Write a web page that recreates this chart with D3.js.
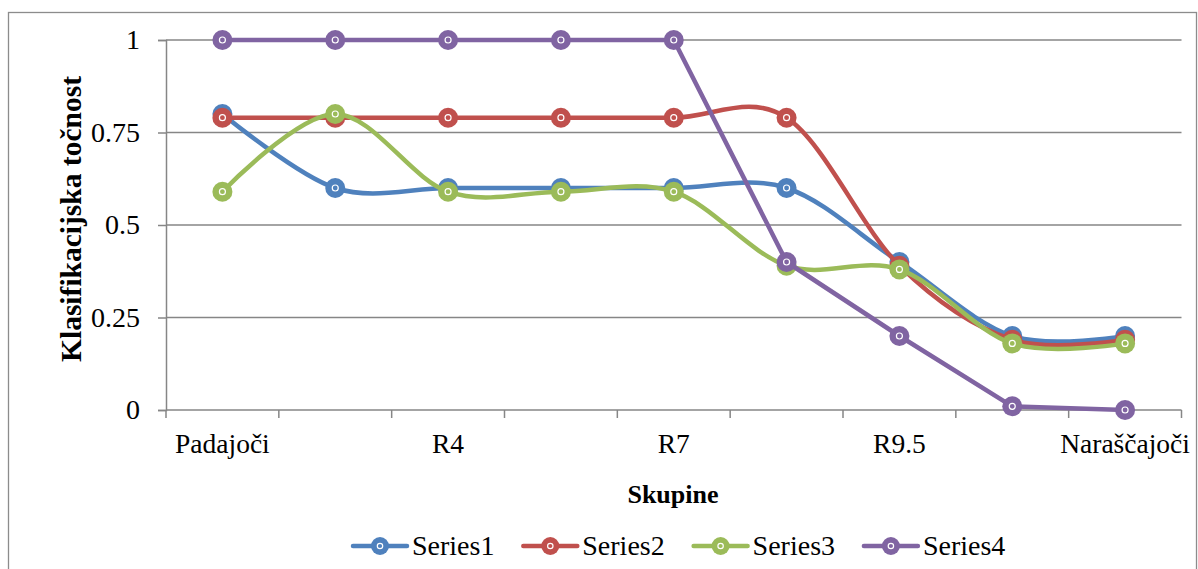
<!DOCTYPE html>
<html>
<head>
<meta charset="utf-8">
<script src="https://cdn.jsdelivr.net/npm/d3@7"></script>
<style>
  html, body { margin: 0; padding: 0; background: #fff; }
  svg { display: block; }
  text { font-family: "Liberation Serif", "Times New Roman", serif; fill: #000; }
</style>
</head>
<body>
<svg id="chart" width="1198" height="569"></svg>
<script>
// Groups along the x axis (only every other label is printed)
const tickLabels = ["Padajoči", "", "R4", "", "R7", "", "R9.5", "", "Naraščajoči"];
const yTicks = [0, 0.25, 0.5, 0.75, 1];

// Classification accuracy per group
const series1 = [0.80, 0.60, 0.60, 0.60, 0.60, 0.60, 0.40, 0.20, 0.20];
const series2 = [0.79, 0.79, 0.79, 0.79, 0.79, 0.79, 0.39, 0.19, 0.19];
const series3 = [0.59, 0.80, 0.59, 0.59, 0.59, 0.39, 0.38, 0.18, 0.18];
const series4 = [1.00, 1.00, 1.00, 1.00, 1.00, 0.40, 0.20, 0.01, 0.00];

const seriesNames = ["Series1", "Series2", "Series3", "Series4"];
const seriesColors = ["#4F81BD", "#C0504D", "#9BBB59", "#8064A2"];
const seriesSmooth = [true, true, true, false];
const allSeries = [series1, series2, series3, series4];

const svg = d3.select("#chart");
const gridColor = "#868686";

// chart border
svg.append("rect")
  .attr("x", 8.5).attr("y", 12.5)
  .attr("width", 1188).attr("height", 570)
  .attr("fill", "#fff").attr("stroke", "#8c8c8c").attr("stroke-width", 1.3);

const plot = { left: 166, right: 1181.5, top: 40, bottom: 410 };

const x = d3.scaleBand()
  .domain(d3.range(tickLabels.length))
  .range([plot.left, plot.right])
  .paddingInner(0).paddingOuter(0);

const y = d3.scaleLinear().domain([0, 1]).range([plot.bottom, plot.top]);

const cx = i => x(i) + x.bandwidth() / 2;

// horizontal gridlines
svg.append("g")
  .selectAll("line")
  .data(yTicks.filter(t => t > 0))
  .join("line")
  .attr("x1", plot.left).attr("x2", plot.right)
  .attr("y1", d => y(d)).attr("y2", d => y(d))
  .attr("stroke", gridColor).attr("stroke-width", 1.5);

// y axis
const yAxis = svg.append("g")
  .attr("transform", `translate(${plot.left},0)`)
  .call(d3.axisLeft(y).tickValues(yTicks).tickSize(8).tickPadding(18)
    .tickFormat(d => String(d)));
yAxis.select(".domain").attr("stroke", gridColor).attr("stroke-width", 1.5);
yAxis.selectAll(".tick line").attr("stroke", gridColor).attr("stroke-width", 1.5);
yAxis.selectAll(".tick text")
  .attr("font-size", 28)
  .attr("font-family", "Liberation Serif, serif")
  .attr("fill", "#000");

// x axis: ticks on band boundaries
const xAxisG = svg.append("g");
xAxisG.append("line")
  .attr("x1", plot.left).attr("x2", plot.right)
  .attr("y1", plot.bottom).attr("y2", plot.bottom)
  .attr("stroke", gridColor).attr("stroke-width", 1.5);
const boundaries = d3.range(tickLabels.length + 1);
xAxisG.selectAll("line.tk")
  .data(boundaries)
  .join("line")
  .attr("class", "tk")
  .attr("x1", i => i < tickLabels.length ? x(i) : plot.right)
  .attr("x2", i => i < tickLabels.length ? x(i) : plot.right)
  .attr("y1", plot.bottom).attr("y2", plot.bottom + 8)
  .attr("stroke", gridColor).attr("stroke-width", 1.5);
xAxisG.selectAll("text")
  .data(tickLabels.map((t, i) => ({ t, i })).filter(d => d.t !== ""))
  .join("text")
  .attr("x", d => cx(d.i))
  .attr("y", 453)
  .attr("text-anchor", "middle")
  .attr("font-size", 27.5)
  .text(d => d.t);

// axis titles
svg.append("text")
  .attr("transform", "translate(81,219) rotate(-90)")
  .attr("text-anchor", "middle")
  .attr("font-size", 29.5)
  .attr("font-weight", "bold")
  .text("Klasifikacijska točnost");

svg.append("text")
  .attr("x", 673).attr("y", 503)
  .attr("text-anchor", "middle")
  .attr("font-size", 26)
  .attr("font-weight", "bold")
  .text("Skupine");

// series lines and markers
function marker(g, px, py, color, r) {
  g.append("circle").attr("cx", px).attr("cy", py).attr("r", r).attr("fill", color);
  g.append("circle").attr("cx", px).attr("cy", py).attr("r", r * 0.3)
    .attr("fill", "none").attr("stroke", "#fff").attr("stroke-width", 1.2);
}

allSeries.forEach((vals, s) => {
  const g = svg.append("g");
  const line = d3.line()
    .x((d, i) => cx(i))
    .y(d => y(d))
    .curve(seriesSmooth[s] ? d3.curveCatmullRom.alpha(0) : d3.curveLinear);
  g.append("path")
    .datum(vals)
    .attr("d", line)
    .attr("fill", "none")
    .attr("stroke", seriesColors[s])
    .attr("stroke-width", 4.5)
    .attr("stroke-linejoin", "round");
  vals.forEach((v, i) => marker(g, cx(i), y(v), seriesColors[s], 10));
});

// legend: evenly spaced entries
const legend = svg.append("g");
const legendStart = 353, legendStep = 170.3, ly = 546;
seriesNames.forEach((name, s) => {
  const lx = legendStart + s * legendStep;
  const item = legend.append("g");
  item.append("line")
    .attr("x1", lx).attr("x2", lx + 54)
    .attr("y1", ly).attr("y2", ly)
    .attr("stroke", seriesColors[s]).attr("stroke-width", 4.5)
    .attr("stroke-linecap", "round");
  marker(item, lx + 27, ly, seriesColors[s], 9);
  item.append("text")
    .attr("x", lx + 59).attr("y", ly + 9)
    .attr("font-size", 28)
    .text(name);
});
</script>
</body>
</html>
